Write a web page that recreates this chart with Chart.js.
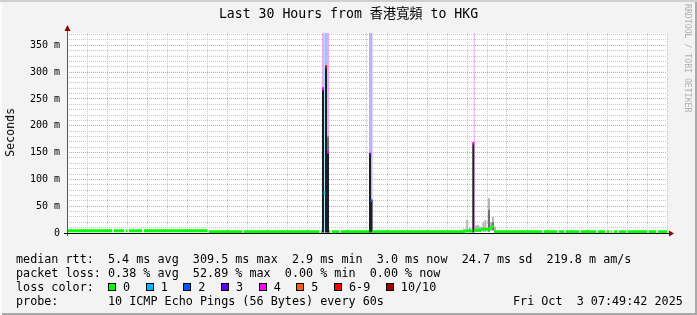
<!DOCTYPE html>
<html>
<head>
<meta charset="utf-8">
<script src="https://cdn.jsdelivr.net/npm/chart.js@4"></script>
<style>
body { margin: 0; background: #fff; }
#box {
  position: relative; width: 697px; height: 315px; overflow: hidden;
  background: #f3f3f3;
  box-shadow: inset 0 2px 0 #cfcfcf, inset 2px 0 0 #fafafa, inset -2px -2px 0 #a9a9a9;
  font-family: "DejaVu Sans Mono", monospace; color: #000;
}
canvas { position: absolute; left: 0; top: 0; }
.txt { position: absolute; white-space: pre; }
#title { left: 0; width: 697px; text-align: center; top: 6px; line-height: 16px;
  font-size: 13.2px; font-family: "DejaVu Sans Mono", "Noto Sans CJK TC", monospace; }
#ylab { left: 3px; top: 108px; font-size: 11.6px; writing-mode: vertical-rl; transform: rotate(180deg); }
#mark { left: 683px; top: 4px; font-size: 8.2px; color: #b0b0b0; writing-mode: vertical-rl; }
.leg { left: 16px; font-size: 11.75px; line-height: 14px; }
#swatches { position: absolute; left: 108px; top: 280px; height: 14px; display: flex; align-items: center;
  font-size: 11.75px; }
#swatches i { display: inline-block; width: 6px; height: 6px; border: 1px solid #000; margin-right: 7px; }
#swatches span { margin-right: 15.6px; }
</style>
</head>
<body>
<div id="box">
  <canvas id="chart" width="697" height="315"></canvas>
  <div class="txt" id="title">Last 30 Hours from 香港寬頻 to HKG</div>
  <div class="txt" id="ylab">Seconds</div>
  <div class="txt" id="mark">RRDTOOL / TOBI OETIKER</div>
  <div class="txt leg" style="top:252px">median rtt:  5.4 ms avg  309.5 ms max  2.9 ms min  3.0 ms now  24.7 ms sd  219.8 m am/s</div>
  <div class="txt leg" style="top:266px">packet loss: 0.38 % avg  52.89 % max  0.00 % min  0.00 % now</div>
  <div class="txt leg" style="top:280px">loss color:</div>
  <div id="swatches"></div>
  <div class="txt leg" style="top:294px">probe:       10 ICMP Echo Pings (56 Bytes) every 60s</div>
  <div class="txt leg" style="top:294px;left:513px">Fri Oct  3 07:49:42 2025</div>
</div>
<script>
// x = hours after Thu 00:00, y = rtt in ms
const X_MIN = 1.9, X_MAX = 31.9;
const Y_MAX = 373;

const xLabelHours = [12, 24];
const xLabelText = ['Thu 12:00', 'Fri 00:00'];
const yLabelValues = [0, 50, 100, 150, 200, 250, 300, 350];
const yLabelText = ['0', '50 m', '100 m', '150 m', '200 m', '250 m', '300 m', '350 m'];

const lossLegend = ['0', '1', '2', '3', '4', '5', '6-9', '10/10'];
const lossLegendCount = [0, 1, 2, 3, 4, 5, 6, 10];

// median rtt with no loss: [from, to, ms]
const medianRuns = [
  [1.90, 4.16, 4], [4.24, 4.76, 4], [4.84, 4.91, 4], [4.99, 5.66, 4], [5.74, 8.91, 4],
  [8.99, 10.66, 2.5], [10.74, 14.51, 2.5], [14.59, 14.65, 2.5],
  [15.0, 15.06, 2.5], [15.14, 15.51, 2.5], [15.59, 17.0, 2.5],
  [17.17, 21.8, 2.5], [21.8, 22.17, 3.5],
  [22.27, 22.6, 5], [22.6, 23.0, 7], [23.0, 23.1, 9], [23.1, 23.25, 12], [23.25, 25.66, 2.5],
  [25.74, 26.41, 2.5], [26.49, 26.76, 2.5], [26.84, 27.51, 2.5], [27.59, 28.36, 2.5],
  [28.44, 28.81, 2.5], [28.89, 29.01, 2.5], [29.09, 29.16, 2.5], [29.24, 29.41, 2.5],
  [29.49, 29.86, 2.5], [29.94, 30.91, 2.5], [30.99, 31.36, 2.5], [31.44, 31.9, 2.5]
];

// median at steps with loss: [hour, ms, lost pings of 10]
const lossMedian = [
  [14.70, 269, 4], [14.775, 75, 1], [14.85, 310, 6], [14.95, 151, 4],
  [17.05, 147, 3], [17.125, 60, 2], [22.215, 167, 4]
];

// loss background: [hour, lost pings]
const lossBars = [[14.70, 4], [14.85, 3], [14.95, 4], [17.05, 3], [17.125, 3]];
const lossLines = [[14.775, 1], [22.265, 4]];

// smoke: [hour, top ms] for dense columns, [hour, low, high] for the rest
const smokeDark = [[14.70, 269], [14.85, 310], [14.95, 151], [17.05, 147], [17.125, 60], [22.215, 167]];
const smokeMid = [[14.95, 0, 180], [23.0, 3, 43], [23.2, 5, 20]];
const smokeLight = [
  [21.6, 1, 6], [21.75, 1, 8], [21.91, 2, 24], [22.05, 2, 10], [22.35, 2, 14], [22.45, 2, 15],
  [22.55, 2, 12], [22.72, 2, 20], [22.82, 2, 24], [23.0, 3, 65], [23.1, 4, 20], [23.2, 5, 30], [23.3, 3, 12]
];

const lossColor = ['#00ff00', '#00b8ff', '#0059ff', '#5e00ff', '#ff00ff', '#ff5e00',
  '#ff0000', '#ff0000', '#ff0000', '#ff0000', '#a10000'];
const lossShade = ['#c0ffc0', '#a8e4ff', '#a8c0ff', '#c0b0fa', '#eea8f4', '#ffc8a8',
  '#ffb0b0', '#ffb0b0', '#ffb0b0', '#ffb0b0', '#e0a0a0'];

// legend swatches
const sw = document.getElementById('swatches');
lossLegend.forEach((t, i) => {
  const b = document.createElement('i');
  b.style.background = lossColor[lossLegendCount[i]];
  const s = document.createElement('span');
  s.textContent = t;
  sw.appendChild(b); sw.appendChild(s);
});

const medianPts = [];
medianRuns.forEach(([a, b, v]) => {
  medianPts.push({x: a, y: v}, {x: b, y: v}, {x: b, y: null});
});

const MAJOR = '#e59a9a', MINOR = '#c6c6c6', FONT = 'DejaVu Sans Mono';

const bar = (data, color, thick, order) => ({
  type: 'bar', data, backgroundColor: color, barThickness: thick, grouped: false,
  borderWidth: 0, inflateAmount: 0, order
});

const frame = {
  id: 'frame',
  beforeDraw(c) {
    const {ctx, chartArea: a} = c;
    ctx.save();
    ctx.fillStyle = '#fff';
    ctx.fillRect(a.left, a.top, a.right - a.left, a.bottom - a.top);
    ctx.restore();
  },
  afterDraw(c) {
    const {ctx, chartArea: a} = c;
    ctx.save();
    ctx.fillStyle = '#555';
    ctx.fillRect(a.left, a.top - 3, 1, a.bottom - a.top + 6);
    ctx.fillStyle = '#000';
    ctx.fillRect(a.left - 3, a.bottom, a.right - a.left + 6, 1);
    ctx.fillStyle = '#8b0000';
    ctx.beginPath();
    ctx.moveTo(a.left + 0.5, a.top - 8); ctx.lineTo(a.left - 2.5, a.top - 2); ctx.lineTo(a.left + 3.5, a.top - 2);
    ctx.fill();
    ctx.beginPath();
    ctx.moveTo(a.right + 7, a.bottom + 0.5); ctx.lineTo(a.right + 2, a.bottom - 2.5); ctx.lineTo(a.right + 2, a.bottom + 3.5);
    ctx.fill();
    ctx.restore();
  }
};

new Chart(document.getElementById('chart'), {
  type: 'line',
  data: {
    datasets: [
      bar(lossBars.map(([h]) => ({x: h, y: [0, Y_MAX]})), lossBars.map(([, l]) => lossShade[l]), 2, 6),
      bar(lossLines.map(([h]) => ({x: h, y: [0, Y_MAX]})), lossLines.map(([, l]) => lossShade[l]), 1, 6),
      bar(smokeLight.map(([h, lo, hi]) => ({x: h, y: [lo, hi]})), '#b4b4b4', 2, 5),
      bar(smokeMid.map(([h, lo, hi]) => ({x: h, y: [lo, hi]})), '#6e6e6e', 2, 4),
      bar(smokeDark.map(([h, top]) => ({x: h, y: [0, top]})), '#1e1e1e', 2, 3),
      {
        data: medianPts, borderColor: '#00ff00', borderWidth: 3, pointRadius: 0,
        spanGaps: false, borderCapStyle: 'butt', order: 2
      },
      {
        data: lossMedian.map(([h, v]) => ({x: h, y: v})), showLine: false,
        pointStyle: 'line', pointRadius: 1, pointBorderWidth: 3,
        pointBorderColor: lossMedian.map(([, , l]) => lossColor[l]), order: 1
      }
    ]
  },
  options: {
    responsive: false, animation: false, devicePixelRatio: 1, events: [],
    layout: {padding: {left: 0, top: 33, right: 30, bottom: 0}},
    plugins: {legend: {display: false}, title: {display: false}, tooltip: {enabled: false}},
    scales: {
      x: {
        type: 'linear', min: X_MIN, max: X_MAX, offset: false,
        afterFit: s => { s.height = 82; },
        grid: {
          offset: false, tickLength: 3,
          color: c => (c.tick.value % 6 === 0 ? MAJOR : MINOR),
          tickColor: c => (c.tick.value % 6 === 0 ? '#d46a6a' : 'rgba(0,0,0,0)')
        },
        border: {display: false, dash: [1, 1]},
        ticks: {
          stepSize: 1, includeBounds: false, autoSkip: false, maxRotation: 0, minRotation: 0,
          padding: 1, color: '#000', font: {family: FONT, size: 10},
          callback: v => { const i = xLabelHours.indexOf(v); return i >= 0 ? xLabelText[i] : ''; }
        }
      },
      y: {
        type: 'linear', min: 0, max: Y_MAX,
        afterFit: s => { s.width = 67; },
        grid: {
          drawTicks: false,
          color: c => (c.tick.value % 50 === 0 ? MAJOR : MINOR)
        },
        border: {display: false, dash: [1, 1]},
        ticks: {
          stepSize: 10, includeBounds: false, autoSkip: false, padding: 7,
          color: '#000', font: {family: FONT, size: 10},
          callback: v => { const i = yLabelValues.indexOf(v); return i >= 0 ? yLabelText[i] : ''; }
        }
      }
    }
  },
  plugins: [frame]
});
</script>
</body>
</html>
